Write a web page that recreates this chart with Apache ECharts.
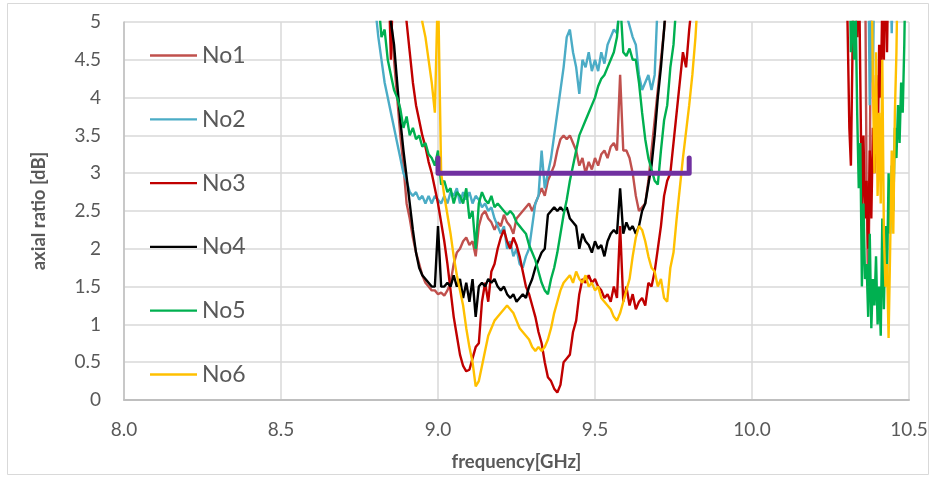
<!DOCTYPE html>
<html>
<head>
<meta charset="utf-8">
<script src="https://cdn.jsdelivr.net/npm/echarts@6/dist/echarts.min.js"></script>
<style>
html,body{margin:0;padding:0;background:#fff;}
#chart{width:935px;height:478px;}
</style>
</head>
<body>
<div id="chart"></div>
<script>
// ---- frequency grids (GHz) ----
const freqMain = [
  8.80,8.81,8.82,8.83,8.84,8.85,8.86,8.87,8.88,8.89,
  8.90,8.91,8.92,8.93,8.94,8.95,8.96,8.97,8.98,8.99,
  9.00,9.01,9.02,9.03,9.04,9.05,9.06,9.07,9.08,9.09,
  9.10,9.11,9.12,9.13,9.14,9.15,9.16,9.17,9.18,9.19,
  9.20,9.21,9.22,9.23,9.24,9.25,9.26,9.27,9.28,9.29,
  9.30,9.31,9.32,9.33,9.34,9.35,9.36,9.37,9.38,9.39,
  9.40,9.41,9.42,9.43,9.44,9.45,9.46,9.47,9.48,9.49,
  9.50,9.51,9.52,9.53,9.54,9.55,9.56,9.57,9.58,9.59,
  9.60,9.61,9.62,9.63,9.64,9.65,9.66,9.67,9.68,9.69,
  9.70,9.71,9.72,9.73,9.74,9.75,9.76,9.77,9.78,9.79,
  9.80,9.81,9.82,9.83,9.84,9.85,9.86,9.87,9.88,9.89,
  9.90
];
const freqRight = [
  10.300,10.305,10.310,10.315,10.320,10.325,10.330,10.335,10.340,10.345,
  10.350,10.355,10.360,10.365,10.370,10.375,10.380,10.385,10.390,10.395,
  10.400,10.405,10.410,10.415,10.420,10.425,10.430,10.435,10.440,10.445,
  10.450,10.455,10.460,10.465,10.470,10.475,10.480,10.485,10.490,10.495,
  10.500
];

// ---- axial ratio [dB] (values above 5 lie off the top of the plot) ----
const no1Main = [
  6,6,6,6,6,5.1,4.5,4.0,3.5,3.1,
  2.6,2.4,2.15,1.95,1.8,1.65,1.55,1.5,1.45,1.45,
  1.4,1.42,1.38,1.45,1.55,1.8,1.95,2.0,2.1,2.15,
  2.05,2.1,1.9,2.3,2.45,2.5,2.4,2.35,2.25,2.35,
  2.3,2.45,2.35,2.3,2.2,2.4,2.45,2.5,2.55,2.6,
  2.5,2.6,2.7,2.8,2.7,2.9,3.0,3.1,3.3,3.45,
  3.5,3.45,3.5,3.4,3.3,3.1,3.2,3.0,3.15,3.05,
  3.2,3.1,3.25,3.3,3.2,3.35,3.4,3.3,4.3,3.3,
  3.3,3.2,3.0,2.7,2.5,2.55,2.6,2.9,3.3,3.7,
  4.1,4.5,4.9,5.3,6,6,6,6,6,6,
  6,6,6,6,6,6,6,6,6,6,
  6
];
const no2Main = [
  5.2,4.8,4.5,4.2,4.0,3.8,3.6,3.4,3.2,3.0,
  2.9,2.75,2.7,2.75,2.65,2.7,2.6,2.7,2.6,2.7,
  2.65,2.6,2.7,2.6,2.75,2.7,2.8,2.6,2.75,2.65,
  2.75,2.6,2.7,2.65,2.55,2.6,2.5,2.55,2.4,2.3,
  2.2,2.3,2.0,2.1,1.9,2.0,1.8,1.75,1.9,2.0,
  2.3,2.6,2.7,3.3,2.8,3.0,3.2,3.5,3.8,4.1,
  4.4,4.8,4.9,4.6,4.4,4.05,4.5,4.4,4.6,4.35,
  4.5,4.35,4.6,4.45,4.7,4.8,4.9,4.85,5.3,5.2,
  5.1,4.95,4.8,4.7,4.3,4.1,4.2,4.3,4.1,4.3,
  5.3,6,6,6,6,6,6,6,6,6,
  6,6,6,6,6,6,6,6,6,6,
  6
];
const no3Main = [
  6,6,6,6,6,4.5,6,6,6,5.5,
  5.0,4.6,4.2,3.9,3.7,3.5,3.35,3.15,3.0,2.8,
  2.6,2.35,2.1,1.8,1.45,1.1,0.85,0.6,0.45,0.38,
  0.4,0.55,0.7,0.75,1.3,1.55,1.3,1.7,1.8,2.0,
  2.15,2.25,2.1,2.0,2.15,2.05,1.9,1.7,1.5,1.4,
  1.25,1.1,0.9,0.75,0.5,0.3,0.25,0.15,0.1,0.2,
  0.5,0.55,0.6,0.9,1.05,1.4,1.6,1.55,1.65,1.55,
  1.6,1.5,1.45,1.35,1.4,1.3,1.5,1.35,2.3,1.3,
  1.5,1.25,1.4,1.2,1.3,1.35,1.25,1.55,1.5,1.7,
  2.0,2.3,2.7,2.9,3.0,3.4,3.8,4.2,4.6,4.4,
  4.9,5.3,6,6,6,6,6,6,6,6,
  6
];
const no4Main = [
  6,6,6,6,6,5.0,4.7,4.2,3.7,3.3,
  2.95,2.6,2.25,1.95,1.75,1.65,1.6,1.55,1.5,1.5,
  2.3,1.5,1.5,1.55,1.5,1.65,1.5,1.6,1.35,1.55,
  1.3,1.6,1.1,1.5,1.55,1.5,1.6,1.55,1.6,1.5,
  1.45,1.5,1.4,1.35,1.4,1.3,1.35,1.4,1.35,1.5,
  1.6,1.75,1.85,1.95,2.0,2.45,2.5,2.55,2.5,2.55,
  2.5,2.55,2.4,2.35,2.3,2.0,2.2,2.1,2.05,1.95,
  2.1,2.0,2.05,1.9,2.1,2.2,2.25,2.2,2.8,2.2,
  2.35,2.25,2.3,2.2,2.3,2.5,2.6,2.85,3.1,3.5,
  4.0,4.4,4.9,5.5,6,6,6,6,6,6,
  6,6,6,6,6,6,6,6,6,6,
  6
];
const no5Main = [
  6,5.3,4.8,4.9,4.5,4.3,4.1,4.0,3.85,3.6,
  3.75,3.5,3.6,3.45,3.5,3.35,3.4,3.25,3.2,3.1,
  3.3,2.85,2.9,2.75,2.8,2.6,2.75,2.7,2.6,2.8,
  2.4,2.5,2.0,2.6,2.75,2.65,2.6,2.7,2.55,2.6,
  2.55,2.5,2.45,2.5,2.45,2.35,2.3,2.25,2.2,2.05,
  1.95,1.85,1.7,1.55,1.45,1.4,1.6,1.75,1.95,2.2,
  2.45,2.65,2.9,3.1,3.3,3.5,3.6,3.7,3.8,3.9,
  4.0,4.15,4.25,4.3,4.4,4.5,4.6,4.8,5.3,4.6,
  4.55,4.65,4.5,4.5,4.2,3.8,3.45,3.2,3.05,2.9,
  2.85,3.3,3.7,3.9,4.4,4.7,5.3,6,6,6,
  6,6,6,6,6,6,6,6,6,6,
  6
];
const no6Main = [
  6,6,6,6,6,6,6,6,6,6,
  6,6,6,6,6,5.0,4.8,4.5,4.2,3.8,
  5.5,3.0,2.7,2.45,2.2,1.9,1.65,1.45,1.25,0.95,
  0.7,0.5,0.18,0.25,0.45,0.65,0.85,0.95,1.05,1.1,
  1.15,1.2,1.25,1.2,1.15,1.05,0.95,0.9,0.85,0.8,
  0.7,0.65,0.7,0.65,0.7,0.8,0.95,1.15,1.3,1.45,
  1.55,1.6,1.65,1.55,1.7,1.6,1.55,1.65,1.5,1.55,
  1.45,1.5,1.35,1.3,1.25,1.2,1.1,1.05,1.15,1.3,
  1.45,1.6,1.9,2.15,2.3,2.25,2.1,1.9,1.75,1.7,
  1.5,1.6,1.35,1.3,1.75,1.95,2.4,2.8,3.2,3.55,
  3.9,4.3,4.8,5.5,6,6,6,6,6,6,
  6
];

const no1Right = [
  6,6,6,6,6,6,6,6,6,6,
  6,6,6,2.8,1.4,3.0,6,6,6,6,
  6,6,6,6,6,6,6,6,6,6,
  6,6,6,6,6,6,6,6,6,6,
  6
];
const no2Right = [
  6,6,6,6,6,6,6,6,6,6,
  6,6,6,6,6,3.9,5.4,4.2,6,6,
  6,6,6,6,6,6,6,6,6,4.85,
  6,6,6,6,6,6,6,6,6,6,
  6
];
const no3Right = [
  6,6,3.6,3.1,4.6,6,6,4.8,6,4.2,
  2.5,3.5,2.4,2.9,2.0,3.3,2.4,3.6,3.0,4.3,
  3.2,4.7,4.0,5.3,4.5,6,4.6,6,6,6,
  6,6,6,6,6,6,6,6,6,6,
  6
];
const no4Right = [
  6,6,6,6,6,6,6,6,6,6,
  6,6,6,6,6,6,6,6,6,6,
  6,6,6,6,6,6,6,6,6,6,
  6,6,6,6,6,6,6,6,6,6,
  6
];
const no5Right = [
  6,6,6,4.6,5.3,4.5,5.2,3.8,2.8,3.4,
  1.5,2.6,1.6,1.8,1.1,2.2,0.95,1.6,1.25,1.9,
  1.0,1.5,0.85,2.4,1.2,2.3,1.6,3.0,2.2,3.1,
  2.5,3.6,3.2,3.9,3.4,4.2,3.8,4.7,6,6,
  6
];
const no6Right = [
  6,6,6,6,6,6,6,6,6,6,
  6,6,6,6,6,6,6,4.2,3.0,4.6,
  2.7,3.8,2.6,4.5,2.2,1.5,1.8,0.82,2.0,3.3,
  2.2,3.8,4.6,6,6,6,6,6,6,6,
  6
];

// ---- 3 dB reference band ----
const bandFreq = [9.0, 9.8];
const bandLevel = 3.0;
const bandTick = 3.2;

// ---- labels ----
const seriesNames = ['No1','No2','No3','No4','No5','No6'];
const seriesColors = ['#C0504D','#4BACC6','#C00000','#000000','#00B050','#FFC000'];
const mainSets = [no1Main, no2Main, no3Main, no4Main, no5Main, no6Main];
const rightSets = [no1Right, no2Right, no3Right, no4Right, no5Right, no6Right];

function pairs(fr, vals){ return fr.map((f,i)=>[f, vals[i]]); }

const FONT = 'Lato, "Open Sans", sans-serif';
const TXT = '#595959';

const series = seriesNames.map((n,k)=>({
  name: n,
  type: 'line',
  data: pairs(freqMain, mainSets[k]).concat(pairs(freqRight, rightSets[k])),
  symbol: 'none',
  showSymbol: false,
  clip: true,
  lineStyle: { width: 2.4, color: seriesColors[k] },
  itemStyle: { color: seriesColors[k] },
  z: 2 + k
}));
series.push({
  name: 'band',
  type: 'line',
  data: [[bandFreq[0], bandTick],[bandFreq[0], bandLevel],[bandFreq[1], bandLevel],[bandFreq[1], bandTick]],
  symbol: 'none',
  clip: true,
  lineStyle: { width: 5, color: '#7030A0', cap: 'round', join: 'round' },
  z: 10
});

const chart = echarts.init(document.getElementById('chart'), null, {renderer:'canvas'});
chart.setOption({
  animation: false,
  backgroundColor: '#ffffff',
  graphic: [{
    type: 'rect',
    shape: { x: 7.5, y: 3.5, width: 921, height: 471 },
    style: { fill: 'none', stroke: '#D9D9D9', lineWidth: 1 },
    silent: true
  }],
  grid: { left: 124, top: 22, right: 26, bottom: 78, containLabel: false },
  legend: {
    data: seriesNames,
    orient: 'vertical',
    left: 145,
    top: 39,
    itemWidth: 47,
    itemHeight: 22,
    itemGap: 40.8,
    icon: 'path://M0,10 L47,10 L47,12.3 L0,12.3 Z',
    textStyle: { fontFamily: FONT, fontSize: 23, color: TXT, lineHeight: 22 }
  },
  xAxis: {
    type: 'value',
    min: 8, max: 10.5, interval: 0.5,
    name: 'frequency[GHz]',
    nameLocation: 'middle',
    nameGap: 53,
    nameTextStyle: { fontFamily: FONT, fontSize: 18.5, fontWeight: 'bold', color: TXT },
    axisLine: { show: true, onZero: false, lineStyle: { color: '#BFBFBF', width: 2 } },
    axisTick: { show: false },
    axisLabel: { fontFamily: FONT, fontSize: 19, color: TXT, margin: 20,
                 formatter: v => v.toFixed(1) },
    splitLine: { show: true, lineStyle: { color: '#D9D9D9', width: 1.5 } }
  },
  yAxis: {
    type: 'value',
    min: 0, max: 5, interval: 0.5,
    name: 'axial ratio [dB]',
    nameLocation: 'middle',
    nameRotate: 90,
    nameGap: 75,
    nameTextStyle: { fontFamily: FONT, fontSize: 18.5, fontWeight: 'bold', color: TXT },
    axisLine: { show: true, lineStyle: { color: '#BFBFBF', width: 1.5 } },
    axisTick: { show: false },
    axisLabel: { fontFamily: FONT, fontSize: 19, color: TXT, margin: 23 },
    splitLine: { show: true, lineStyle: { color: '#D9D9D9', width: 1.5 } }
  },
  series: series
});
</script>
</body>
</html>
